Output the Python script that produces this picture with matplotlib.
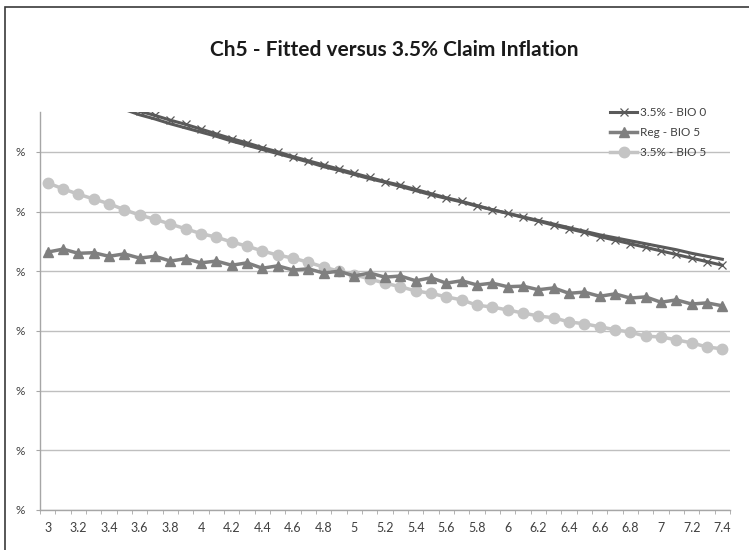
import matplotlib
matplotlib.use('Agg')
import matplotlib.pyplot as plt
from matplotlib.patches import Rectangle
from matplotlib.ticker import FixedLocator, NullFormatter
import numpy as np

# x categories (3.0 .. 7.4)
x_values = [3.0, 3.1, 3.2, 3.3, 3.4, 3.5, 3.6, 3.7, 3.8, 3.9,
            4.0, 4.1, 4.2, 4.3, 4.4, 4.5, 4.6, 4.7, 4.8, 4.9,
            5.0, 5.1, 5.2, 5.3, 5.4, 5.5, 5.6, 5.7, 5.8, 5.9,
            6.0, 6.1, 6.2, 6.3, 6.4, 6.5, 6.6, 6.7, 6.8, 6.9,
            7.0, 7.1, 7.2, 7.3, 7.4]

# series values (units of one gridline)
bio0_35 = [7.20, 7.12, 7.03, 6.94, 6.86, 6.77, 6.68, 6.61, 6.53, 6.46,
           6.38, 6.30, 6.22, 6.15, 6.07, 6.00, 5.92, 5.85, 5.78, 5.71,
           5.64, 5.57, 5.50, 5.44, 5.37, 5.30, 5.23, 5.17, 5.10, 5.03,
           4.97, 4.90, 4.84, 4.77, 4.71, 4.65, 4.58, 4.52, 4.46, 4.40,
           4.34, 4.28, 4.22, 4.16, 4.10]

bio0_reg = [7.12, 7.04, 6.95, 6.87, 6.78, 6.71, 6.62, 6.55, 6.47, 6.40,
            6.33, 6.26, 6.18, 6.11, 6.04, 5.97, 5.90, 5.83, 5.75, 5.69,
            5.62, 5.55, 5.49, 5.42, 5.35, 5.28, 5.22, 5.16, 5.09, 5.03,
            4.97, 4.91, 4.85, 4.79, 4.73, 4.67, 4.61, 4.56, 4.51, 4.46,
            4.41, 4.36, 4.30, 4.25, 4.20]

bio5_reg = [4.32, 4.37, 4.30, 4.31, 4.25, 4.29, 4.22, 4.25, 4.17, 4.21,
            4.14, 4.17, 4.10, 4.14, 4.05, 4.09, 4.02, 4.04, 3.97, 4.00,
            3.92, 3.97, 3.90, 3.92, 3.84, 3.89, 3.80, 3.84, 3.77, 3.80,
            3.74, 3.75, 3.69, 3.72, 3.63, 3.65, 3.58, 3.62, 3.55, 3.57,
            3.48, 3.52, 3.45, 3.47, 3.42]

bio5_35 = [5.48, 5.38, 5.29, 5.21, 5.13, 5.03, 4.94, 4.87, 4.79, 4.71,
           4.63, 4.57, 4.49, 4.42, 4.34, 4.27, 4.22, 4.15, 4.07, 4.00,
           3.94, 3.87, 3.80, 3.74, 3.67, 3.63, 3.57, 3.52, 3.43, 3.40,
           3.35, 3.30, 3.25, 3.22, 3.15, 3.12, 3.07, 3.02, 2.98, 2.91,
           2.90, 2.85, 2.80, 2.73, 2.70]

y_grid = [0, 1, 2, 3, 4, 5, 6]

plt.rcParams['font.family'] = ['Lato', 'DejaVu Sans']

W, H = 749, 550
fig = plt.figure(figsize=(W / 100, H / 100), dpi=100)

# chart area border
fig.patches.append(Rectangle((4.5 / W, -0.1), 1.2, 1 - 6.5 / H + 0.1,
                             transform=fig.transFigure, fill=False,
                             edgecolor='#3a3a3a', linewidth=1.2))

ax = fig.add_axes([40 / W, 40 / H, 690 / W, 398 / H])
idx = np.arange(len(x_values))

ax.plot(idx, bio0_35, color='#5a5a5a', linewidth=2.2, marker='x',
        markersize=6, markeredgewidth=0.9, label='3.5% - BIO 0', zorder=3)
ax.plot(idx, bio0_reg, color='#5a5a5a', linewidth=2.2, zorder=4)
ax.plot(idx, bio5_reg, color='#7f7f7f', linewidth=2.5, marker='^',
        markersize=7, label='Reg - BIO 5', zorder=3)
ax.plot(idx, bio5_35, color='#c4c4c4', linewidth=2.5, marker='o',
        markersize=7.5, label='3.5% - BIO 5', zorder=2)

ax.set_xlim(-0.5, len(x_values) - 0.5)
ax.set_ylim(0, 6.667)

# x axis: labels every 0.2, tick marks between categories
ax.set_xticks(idx[::2])
ax.set_xticklabels(['%g' % v for v in x_values[::2]])
ax.xaxis.set_minor_locator(FixedLocator(np.arange(-0.5, len(x_values), 1)))
ax.xaxis.set_minor_formatter(NullFormatter())
ax.tick_params(axis='x', which='major', length=0, pad=9,
               labelsize=9, labelcolor='#404040')
ax.tick_params(axis='x', which='minor', length=3, color='#a6a6a6')

ax.set_yticks(y_grid)
ax.set_yticklabels(['%'] * len(y_grid))
ax.tick_params(axis='y', length=3, color='#a6a6a6', pad=8,
               labelsize=8.5, labelcolor='#404040')
ax.grid(axis='y', color='#bfbfbf', linewidth=1)
ax.set_axisbelow(True)

for side in ['top', 'right']:
    ax.spines[side].set_visible(False)
for side in ['left', 'bottom']:
    ax.spines[side].set_color('#a6a6a6')
    ax.spines[side].set_linewidth(1)

fig.text(394 / W, 1 - 50 / H, 'Ch5 - Fitted versus 3.5% Claim Inflation',
         ha='center', va='center', fontsize=15, fontweight='bold',
         color='#1a1a1a')

ax.legend(loc='upper left', bbox_to_anchor=(610 / W, 1 - 107 / H),
          bbox_transform=fig.transFigure, frameon=False, fontsize=8.5,
          handlelength=2.3, handletextpad=0.2, labelspacing=0.75,
          borderaxespad=0, borderpad=0, labelcolor='#404040')

fig.savefig('out.png', dpi=100)
